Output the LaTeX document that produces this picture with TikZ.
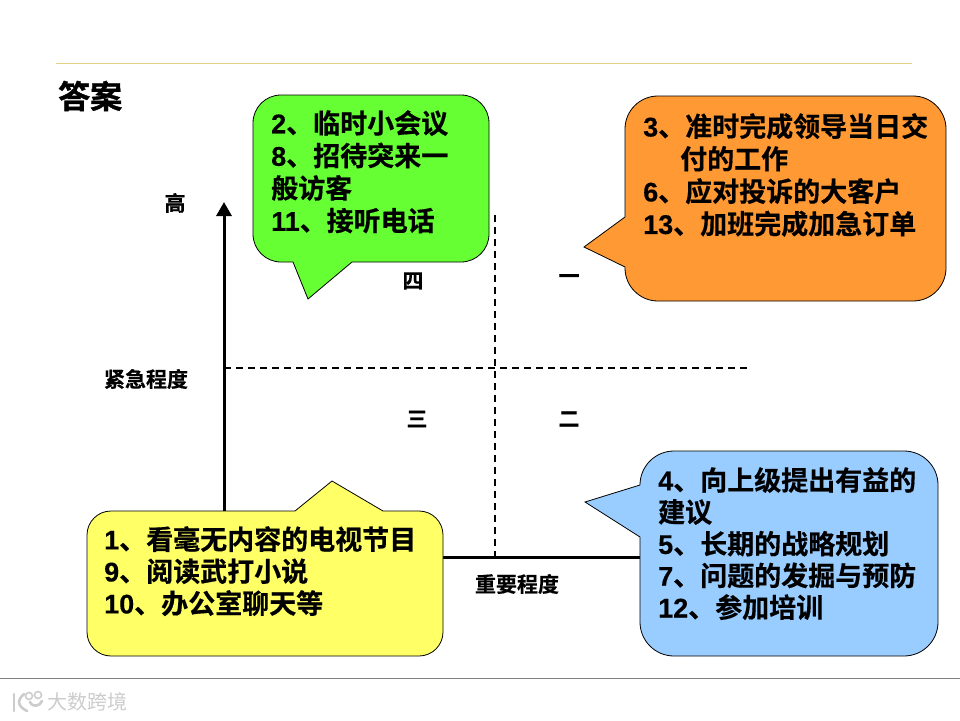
\documentclass[tikz,border=0pt]{standalone}
\usepackage{fontspec}
\setmainfont{Liberation Sans}[BoldFont={Liberation Sans Bold}]
\newfontfamily\cjk[FakeBold=0.5]{Noto Sans CJK SC Bold}
\newfontfamily\cjkheavy[FakeBold=1.2]{Noto Sans CJK SC Bold}
\newfontfamily\latn[FakeBold=0.3]{Liberation Sans Bold}
\newcommand{\nr}[1]{{\latn #1}}
\usetikzlibrary{arrows.meta}

\tikzset{
  callout/.style={draw=black, line width=0.8pt},
  calltext/.style={anchor=north west, align=left, inner sep=0pt, font=\cjk\fontsize{27}{32.5}\selectfont},
  axislabel/.style={inner sep=0pt, font=\cjk\fontsize{21}{21}\selectfont},
  axis/.style={line width=3pt},
  guide/.style={line width=1.5pt, dash pattern=on 7pt off 5pt},
  markline/.style={draw=black!20, line width=2.6pt, line cap=round},
}
\definecolor{calloutgreen}{RGB}{102,255,51}
\definecolor{calloutorange}{RGB}{255,153,51}
\definecolor{calloutyellow}{RGB}{255,255,102}
\definecolor{calloutblue}{RGB}{153,204,255}
\definecolor{rulegold}{RGB}{228,208,130}

\begin{document}
\begin{tikzpicture}[x=1pt,y=-1pt]
\useasboundingbox (0,0) rectangle (960,720);

%% 定型
\draw[rulegold, line width=0.9pt] (56,63) -- (912,63);
\draw[gray, line width=1pt] (0,678) -- (960,678);
\node[anchor=west, inner sep=0pt, font=\cjkheavy\fontsize{32}{32}\selectfont] (title) at (58,96) {答案};

%% 軸
\coordinate (origin) at (224,557);
\coordinate (ytop) at (224,202);
\coordinate (xend) at (660,557);
\draw[axis, -{Triangle[length=14pt,width=15pt]}] (origin) -- (ytop);
\draw[axis] (origin) -- (xend);

%% 点線
\coordinate (vtop) at (495,215);
\coordinate (vbot) at (495,557);
\coordinate (hleft) at (224,368);
\coordinate (hright) at (750,368);
\draw[guide] (vtop) -- (vbot);
\draw[guide] (hleft) -- (hright);

%% 目盛り
\node[axislabel] (high) at (175,203) {高};
\node[axislabel] (urgent) at (146,379) {紧急程度};
\node[axislabel] (important) at (517,584) {重要程度};

%% 数字
\node[axislabel] (q4) at (413,281) {四};
\node[axislabel] (q1) at (569,279) {一};
\node[axislabel] (q3) at (417,419) {三};
\node[axislabel] (q2) at (569,419) {二};

%% 吹き出し
\draw[callout, fill=calloutgreen] (293,262) -- (308,299) -- (352,262)
  [rounded corners=28pt] -- (489,262) -- (489,95) -- (253,95) -- (253,262) -- (293,262);
\draw[callout, fill=calloutorange] (625,217) -- (584,247) -- (625,267)
  [rounded corners=33pt] -- (625,301) -- (946,301) -- (946,96) -- (625,96) -- (625,217);
\draw[callout, fill=calloutyellow] (295,511) -- (332,481) -- (383,511)
  [rounded corners=24pt] -- (443,511) -- (443,656) -- (87,656) -- (87,511) -- (295,511);
\draw[callout, fill=calloutblue] (640,485) -- (585,502) -- (640,537)
  [rounded corners=34pt] -- (640,656) -- (938,656) -- (938,451) -- (640,451) -- (640,485);

%% 文字
\node[calltext] (greentext) at (271,110) {\nr{2}、临时小会议\\\nr{8}、招待突来一\\般访客\\\nr{11}、接听电话};
\node[calltext] (orangetext) at (643,113) {\nr{3}、准时完成领导当日交\\\hspace*{37pt}付的工作\\\nr{6}、应对投诉的大客户\\\nr{13}、加班完成加急订单};
\node[calltext, font=\cjk\fontsize{27}{32}\selectfont] (yellowtext) at (104,526) {\nr{1}、看毫无内容的电视节目\\\nr{9}、阅读武打小说\\\nr{10}、办公室聊天等};
\node[calltext, font=\cjk\fontsize{27}{31.8}\selectfont] (bluetext) at (658,467) {\nr{4}、向上级提出有益的\\建议\\\nr{5}、长期的战略规划\\\nr{7}、问题的发掘与预防\\\nr{12}、参加培训};

%% 水印
\draw[markline] (14,694) -- (14,711);
\draw[markline] (24,694) .. controls (17,700) and (17,706) .. (27,711);
\draw[markline] (30,702) .. controls (33,708) and (40,706) .. (42,701);
\draw[markline, line width=1.6pt] (29,696) circle (3.5pt);
\draw[markline, line width=1.6pt] (38,695) circle (3.5pt);
\node[anchor=west, inner sep=0pt, text=black!20, font=\fontspec{Noto Sans CJK SC}\fontsize{20}{20}\selectfont] (mark) at (47,702) {大数跨境};
\end{tikzpicture}
\end{document}
